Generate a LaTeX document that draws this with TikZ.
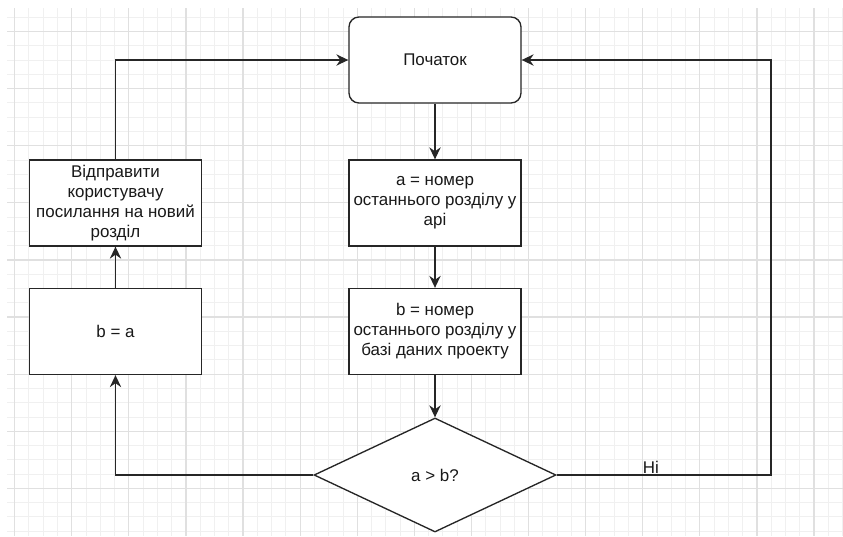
\documentclass[tikz,border=0pt]{standalone}
\usepackage{fontspec}
\setmainfont{Liberation Sans}
\usetikzlibrary{shapes.geometric,arrows.meta}
\begin{document}
\begin{tikzpicture}[x=0.75pt,y=-0.75pt,
  every node/.style={font=\fontsize{12.7}{15}\selectfont, text=black!90},
  box/.style={draw=black!85, line width=1pt, fill=white, minimum width=172*0.75pt, minimum height=86*0.75pt, align=center, inner sep=0pt},
  startbox/.style={box, rounded corners=10*0.75pt},
  decision/.style={draw=black!85, line width=1pt, fill=white, shape=diamond, minimum width=242*0.75pt, minimum height=114*0.75pt, inner sep=0pt},
  conn/.style={draw=black!85, line width=1pt, -{Stealth[length=9pt,width=8.5pt,inset=3pt]}},
  minorline/.style={draw=black!6, line width=0.6pt},
  majorline/.style={draw=black!12, line width=0.9pt}]
\useasboundingbox (0,0) rectangle (843,536);
\fill[white] (0,0) rectangle (843,536);
\begin{scope}
\clip (7,8) rectangle (843,536);
\foreach \k in {0,...,58} \draw[minorline] ({14.6+\k*14.275},8) -- ({14.6+\k*14.275},536);
\foreach \k in {0,...,36} \draw[minorline] (7,{17.2+\k*14.275}) -- (843,{17.2+\k*14.275});
\foreach \k in {0,...,14} \draw[majorline] ({14.6+\k*57.1},8) -- ({14.6+\k*57.1},536);
\foreach \k in {0,...,9} \draw[majorline] (7,{31.5+\k*57.1}) -- (843,{31.5+\k*57.1});
\end{scope}

\node[startbox] (start) at (435,60) {Початок};
\node[box] (a) at (435,203) {a = номер\\останнього розділу у\\api};
\node[box] (b) at (435,331.5) {b = номер\\останнього розділу у\\базі даних проекту};
\node[decision] (dec) at (435,475) {a > b?};
\node[box] (assign) at (115.5,331.5) {b = a};
\node[box] (send) at (115.5,203) {Відправити\\користувачу\\посилання на новий\\розділ};
\coordinate (rc) at (771,475);

\draw[conn] (start) -- (a);
\draw[conn] (a) -- (b);
\draw[conn] (b) -- (dec);
\draw[conn] (dec.west) -| (assign.south);
\draw[conn] (assign) -- (send);
\draw[conn] (send.north) |- (start.west);
\draw[conn] (dec.east) -- node[pos=0.44, above, inner sep=1pt] {Ні} (rc) |- (start.east);
\end{tikzpicture}
\end{document}
